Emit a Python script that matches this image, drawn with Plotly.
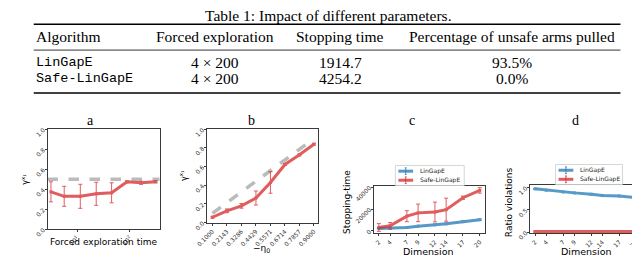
import plotly.graph_objects as go

W, H = 640, 258

# ---------------- data ----------------
table_title = "Table 1: Impact of different parameters."
table_header = ["Algorithm", "Forced exploration", "Stopping time", "Percentage of unsafe arms pulled"]
table_algos = ["LinGapE", "Safe-LinGapE"]
table_forced = ["4 × 200", "4 × 200"]
table_stop = ["1914.7", "4254.2"]
table_pct = ["93.5%", "0.0%"]

# (a) gamma vs forced exploration time (log x)
a_x = [3.2, 5.7, 11.5, 23, 45, 88, 162, 307]
a_y = [0.375, 0.33, 0.33, 0.355, 0.365, 0.475, 0.465, 0.475]
a_err = [0.10, 0.10, 0.12, 0.115, 0.10, 0.01, 0.015, 0.01]
a_threshold = 0.5

# (b) gamma vs -eta0
b_x = [0.1000, 0.2143, 0.3286, 0.4429, 0.5571, 0.6714, 0.7857, 0.9000]
b_target = [0.1000, 0.2143, 0.3286, 0.4429, 0.5571, 0.6714, 0.7857, 0.9000]
b_y = [0.058, 0.127, 0.18, 0.264, 0.43, 0.623, 0.726, 0.84]
b_err = [0.01, 0.02, 0.025, 0.075, 0.115, 0.01, 0.01, 0.01]

# (c) stopping time vs dimension
dims = [2, 4, 7, 9, 12, 14, 17, 20]
c_lingape = [2350, 2650, 3200, 4400, 5600, 6500, 8500, 10300]
c_lingape_err = [400, 400, 400, 400, 500, 500, 600, 700]
c_safe = [3200, 4700, 13500, 16500, 17300, 19400, 30300, 37000]
c_safe_err = [3500, 3000, 5000, 8000, 9000, 10500, 1500, 2500]

# (d) ratio violations vs dimension
d_lingape = [0.97, 0.94, 0.90, 0.88, 0.85, 0.82, 0.81, 0.77]
d_lingape_err = [0.01, 0.01, 0.01, 0.01, 0.01, 0.01, 0.01, 0.01]
d_safe = [0.015, 0.015, 0.015, 0.015, 0.015, 0.015, 0.015, 0.015]
d_safe_err = [0.01, 0.005, 0.005, 0.005, 0.01, 0.005, 0.01, 0.005]

series_names = ["LinGapE", "Safe-LinGapE"]

# ---------------- helpers ----------------
def px(x):
    return x / W

def py(y):
    return 1 - y / H

RED = "#d62728"
BLUE = "#1f77b4"
SERIF = "Liberation Serif"
MONO = "Liberation Mono"
SANS = "DejaVu Sans"

fig = go.Figure()

def err(arr, color):
    return dict(type="data", array=arr, thickness=1, width=2, color=color)

def series(x, y, e, color, xa, ya):
    return go.Scatter(x=x, y=y, error_y=err(e, color), mode="lines+markers",
                      line=dict(color=color, width=3), marker=dict(size=3, symbol="square"),
                      opacity=0.75, showlegend=False, xaxis=xa, yaxis=ya)

fig.add_trace(series(a_x, a_y, a_err, RED, "x", "y"))
fig.add_trace(go.Scatter(x=b_x, y=b_target, mode="lines",
                         line=dict(color="#bbbbbb", width=3.5, dash="dash"),
                         showlegend=False, xaxis="x2", yaxis="y2"))
fig.add_trace(series(b_x, b_y, b_err, RED, "x2", "y2"))
fig.add_trace(series(dims, c_lingape, c_lingape_err, BLUE, "x3", "y3"))
fig.add_trace(series(dims, c_safe, c_safe_err, RED, "x3", "y3"))
fig.add_trace(series(dims, d_lingape, d_lingape_err, BLUE, "x4", "y4"))
fig.add_trace(series(dims, d_safe, d_safe_err, RED, "x4", "y4"))

axis_common = dict(showline=True, mirror=True, linecolor="#3a3a3a", linewidth=1,
                   showgrid=False, zeroline=False, ticks="outside", ticklen=2,
                   tickcolor="#3a3a3a", tickangle=-45,
                   tickfont=dict(family=SANS, size=6, color="#333333"))

def dom_x(l, r):
    return [px(l), px(r)]

def dom_y(t, b):
    return [py(b), py(t)]

unit_ticks = [0, 0.2, 0.4, 0.6, 0.8, 1.0]
fig.update_layout(
    width=W, height=H, margin=dict(l=0, r=0, t=0, b=0),
    paper_bgcolor="white", plot_bgcolor="white", showlegend=False,
    xaxis=dict(axis_common, domain=dom_x(29, 143), type="log", range=[0.44, 2.56],
               tickvals=[10, 100], ticktext=["10<sup>1</sup>", "10<sup>2</sup>"], anchor="y"),
    yaxis=dict(axis_common, domain=dom_y(124, 229), range=[0, 1],
               tickvals=unit_ticks, ticktext=[f"{v:.1f}" for v in unit_ticks], anchor="x"),
    xaxis2=dict(axis_common, domain=dom_x(191, 304), range=[0.055, 0.93],
                tickvals=b_x, ticktext=[f"{v:.4f}" for v in b_x], anchor="y2"),
    yaxis2=dict(axis_common, domain=dom_y(124, 222), range=[0, 1],
                tickvals=unit_ticks, ticktext=[f"{v:.1f}" for v in unit_ticks], anchor="x2"),
    xaxis3=dict(axis_common, domain=dom_x(361, 474), range=[1.1, 20.9],
                tickvals=dims, ticktext=[str(d) for d in dims], anchor="y3"),
    yaxis3=dict(axis_common, domain=dom_y(184, 233), range=[-2000, 40600],
                tickvals=[0, 20000, 40000], ticktext=["0", "20000", "40000"], anchor="x3"),
    xaxis4=dict(axis_common, domain=dom_x(520, 633), range=[1.1, 20.9],
                tickvals=dims, ticktext=[str(d) for d in dims], anchor="y4"),
    yaxis4=dict(axis_common, domain=dom_y(183, 233), range=[-0.02, 1.045],
                tickvals=[0, 0.5, 1.0], ticktext=["0.0", "0.5", "1.0"], anchor="x4"),
)

# threshold line in (a)
fig.add_shape(type="line", xref="x domain", x0=0, x1=1, yref="y", y0=a_threshold, y1=a_threshold,
              line=dict(color="#bbbbbb", width=3.5, dash="dash"), layer="below")

ann = []

def text(x, y, s, size, family, xanchor="center", yanchor="middle", angle=0, color="black"):
    ann.append(dict(x=px(x), y=py(y), xref="paper", yref="paper", text=s, showarrow=False,
                    xanchor=xanchor, yanchor=yanchor, textangle=angle,
                    font=dict(family=family, size=size, color=color)))

def hline(x0, x1, y, color, width, opacity=1.0):
    fig.add_shape(type="line", xref="paper", yref="paper", x0=px(x0), x1=px(x1),
                  y0=py(y), y1=py(y), line=dict(color=color, width=width), opacity=opacity)

def vline(x, y0, y1, color, width, opacity=1.0):
    fig.add_shape(type="line", xref="paper", yref="paper", x0=px(x), x1=px(x),
                  y0=py(y0), y1=py(y1), line=dict(color=color, width=width), opacity=opacity)

# ---------- table ----------
TS = 15.5
text(315, 5, table_title, TS, SERIF)
col_x = [15, 199, 327, 502]
text(col_x[0], 27, table_header[0], TS, SERIF, xanchor="left")
for i in range(1, 4):
    text(col_x[i], 27, table_header[i], TS, SERIF)
row_y = [53.5, 70.5]
for r in range(2):
    text(col_x[0], row_y[r], table_algos[r], 13.5, MONO, xanchor="left")
    text(col_x[1], row_y[r], table_forced[r], TS, SERIF)
    text(col_x[2], row_y[r], table_stop[r], TS, SERIF)
    text(col_x[3], row_y[r], table_pct[r], TS, SERIF)

hline(15, 612, 14, "black", 1.5)
hline(15, 612, 41, "black", 0.8)
hline(15, 612, 86, "black", 1.5)

# ---------- subplot titles & labels ----------
text(73, 115, "a", 14, SERIF)
text(237, 115, "b", 14, SERIF)
text(400, 115, "c", 14, SERIF)
text(566, 115, "d", 14, SERIF)

text(86, 242, "Forced exploration time", 9, SANS)
text(247, 249, "−η<sub>0</sub>", 9, SANS)
text(417, 252, "Dimension", 9.5, SANS)
text(577, 252, "Dimension", 9.5, SANS)

text(6, 176, "γ<sup>x<sub>1</sub></sup>", 8, SANS, angle=-90)
text(167, 173, "γ<sup>x<sub>1</sub></sup>", 8, SANS, angle=-90)
text(333, 200, "Stopping-time", 9, SANS, angle=-90)
text(498, 200, "Ratio violations", 9, SANS, angle=-90)

# ---------- legends (drawn as decoration) ----------
def legend_box(l, t, r, b, entries):
    fig.add_shape(type="rect", xref="paper", yref="paper", x0=px(l), x1=px(r), y0=py(b), y1=py(t),
                  fillcolor="white", line=dict(color="#cccccc", width=0.8), layer="above")
    for (yy, color, name) in entries:
        x0, x1 = l + 3, l + 18
        xm = (x0 + x1) / 2
        hline(x0, x1, yy, color, 3, 0.75)
        vline(xm, yy - 3.5, yy + 3.5, color, 1, 0.75)
        hline(xm - 1, xm + 1, yy - 3.5, color, 1, 0.75)
        hline(xm - 1, xm + 1, yy + 3.5, color, 1, 0.75)
        text(l + 23, yy, name, 6, SANS, xanchor="left", color="#222222")

legend_box(383, 162, 453, 183, [(168, BLUE, series_names[0]), (177.5, RED, series_names[1])])
legend_box(546, 161, 614, 182, [(167, BLUE, series_names[0]), (176.5, RED, series_names[1])])

fig.update_layout(annotations=ann)

fig.write_html("out.html")
